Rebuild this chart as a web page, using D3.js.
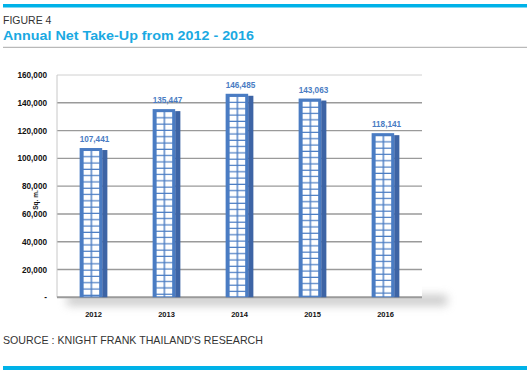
<!DOCTYPE html>
<html><head><meta charset="utf-8">
<script src="https://cdn.jsdelivr.net/npm/d3@7"></script>
<style>body{margin:0;background:#fff}svg{display:block}</style>
</head><body>
<svg id="c" width="530" height="374"></svg>
<script>
const categories = ["2012","2013","2014","2015","2016"];
const values = [107441,135447,146485,143063,118141];
const yTicks = [0,20000,40000,60000,80000,100000,120000,140000,160000];
const figureLabel = "FIGURE 4";
const titleText = "Annual Net Take-Up from 2012 - 2016";
const sourceText = "SOURCE : KNIGHT FRANK THAILAND'S RESEARCH";
const yAxisTitle = "Sq. m.";

const svg = d3.select("#c");
const cyan = "#00b2e8";
const blue = "#4a7cc3";
const sideBlue = "#3d64a5";
const font = "'Liberation Sans', Arial, sans-serif";

// header / footer
svg.append("rect").attr("x",3).attr("y",4).attr("width",524).attr("height",3.5).attr("fill",cyan);
svg.append("text").attr("x",3).attr("y",24).attr("font-family",font).attr("font-size",10.5)
  .attr("fill","#333").text(figureLabel);
svg.append("text").attr("x",3).attr("y",39.5).attr("font-family",font).attr("font-size",13.5)
  .attr("font-weight","bold").attr("fill","#1aa9e2")
  .attr("textLength",251).attr("lengthAdjust","spacingAndGlyphs").text(titleText);
svg.append("rect").attr("x",3).attr("y",46.8).attr("width",524).attr("height",1).attr("fill","#a8a8a8");
svg.append("text").attr("x",3).attr("y",344).attr("font-family",font).attr("font-size",10.8)
  .attr("fill","#333").attr("textLength",260).attr("lengthAdjust","spacingAndGlyphs").text(sourceText);
svg.append("rect").attr("x",3).attr("y",366).attr("width",524).attr("height",4).attr("fill",cyan);

// chart
const pLeft = 57, pRight = 422, pTop = 75, pBottom = 297.3;
const x = d3.scaleBand().domain(categories).range([pLeft,pRight]).paddingInner(0.62).paddingOuter(0.31);
const y = d3.scaleLinear().domain([0,160000]).range([pBottom,pTop]);

const defs = svg.append("defs");
const blur = defs.append("filter").attr("id","sh").attr("x","-20%").attr("y","-200%").attr("width","140%").attr("height","500%");
blur.append("feGaussianBlur").attr("stdDeviation",5);
svg.append("rect").attr("x",pLeft+10).attr("y",pBottom-2).attr("width",pRight-pLeft+15).attr("height",10)
  .attr("fill","#9a9a9a").attr("opacity",0.55).attr("filter","url(#sh)");
svg.append("rect").attr("x",pLeft).attr("y",pTop).attr("width",pRight-pLeft).attr("height",pBottom-pTop).attr("fill","#fff");

// grid
svg.append("g").selectAll("line").data(yTicks.filter(d=>d>0)).join("line")
  .attr("x1",pLeft).attr("x2",pRight).attr("y1",d=>y(d)).attr("y2",d=>y(d))
  .attr("stroke",d=>d===160000?"#d0d0d0":"#9a9a9a").attr("stroke-width",d=>d===160000?1:1.4);
svg.append("line").attr("x1",pLeft).attr("x2",pLeft).attr("y1",pTop).attr("y2",pBottom).attr("stroke","#c8c8c8");
svg.append("line").attr("x1",pLeft).attr("x2",pRight).attr("y1",pBottom).attr("y2",pBottom).attr("stroke","#9a9a9a").attr("stroke-width",2);

// y axis labels
const yAxis = d3.axisLeft(y).tickValues(yTicks).tickSize(0).tickPadding(10)
  .tickFormat(d=>d===0?"-":d3.format(",")(d));
const ya = svg.append("g").attr("transform",`translate(${pLeft},0)`).call(yAxis);
ya.select(".domain").remove();
ya.selectAll("text").attr("font-family",font).attr("font-size",8.2).attr("font-weight","bold").attr("fill","#111");
svg.append("text").attr("transform",`translate(38,200) rotate(-90)`).attr("text-anchor","middle")
  .attr("font-family",font).attr("font-size",6.5).attr("font-weight","bold").attr("fill","#111").text(yAxisTitle);

// x axis labels
const xAxis = d3.axisBottom(x).tickSize(0).tickPadding(14);
const xa = svg.append("g").attr("transform",`translate(0,${pBottom})`).call(xAxis);
xa.select(".domain").remove();
xa.selectAll("text").attr("font-family",font).attr("font-size",7.5).attr("font-weight","bold").attr("fill","#111");

// bars
const bw = x.bandwidth();
const sideW = 5.2;
const frontW = bw - sideW;
const rowH = 6.3;
categories.forEach((c,i)=>{
  const bx = x(c), by = y(values[i]);
  const p = defs.append("pattern").attr("id","win"+i).attr("patternUnits","userSpaceOnUse")
    .attr("x",bx+4).attr("y",by+3).attr("width",frontW-7).attr("height",rowH);
  p.append("rect").attr("width",frontW-7).attr("height",rowH).attr("fill",blue);
  const cw = (frontW-7-1.4)/2;
  p.append("rect").attr("x",0).attr("y",0).attr("width",cw).attr("height",rowH-1.2).attr("fill","#fff");
  p.append("rect").attr("x",cw+1.4).attr("y",0).attr("width",cw).attr("height",rowH-1.2).attr("fill","#fff");
});
const bars = svg.append("g").selectAll("g").data(categories).join("g");
bars.append("rect").attr("x",d=>x(d)+frontW).attr("y",(d,i)=>y(values[i])+2).attr("width",sideW)
  .attr("height",(d,i)=>pBottom-y(values[i])-2).attr("fill",sideBlue);
bars.append("rect").attr("x",d=>x(d)).attr("y",(d,i)=>y(values[i])).attr("width",frontW)
  .attr("height",(d,i)=>pBottom-y(values[i])).attr("fill",blue);
bars.append("rect").attr("x",d=>x(d)+4).attr("y",(d,i)=>y(values[i])+3).attr("width",frontW-7)
  .attr("height",(d,i)=>pBottom-y(values[i])-4).attr("fill",(d,i)=>`url(#win${i})`);
bars.append("text").attr("x",d=>x(d)+bw/2+1).attr("y",(d,i)=>y(values[i])-6)
  .attr("text-anchor","middle").attr("font-family",font).attr("font-size",8.2).attr("font-weight","bold")
  .attr("fill",blue).text((d,i)=>d3.format(",")(values[i]));
</script>
</body></html>
